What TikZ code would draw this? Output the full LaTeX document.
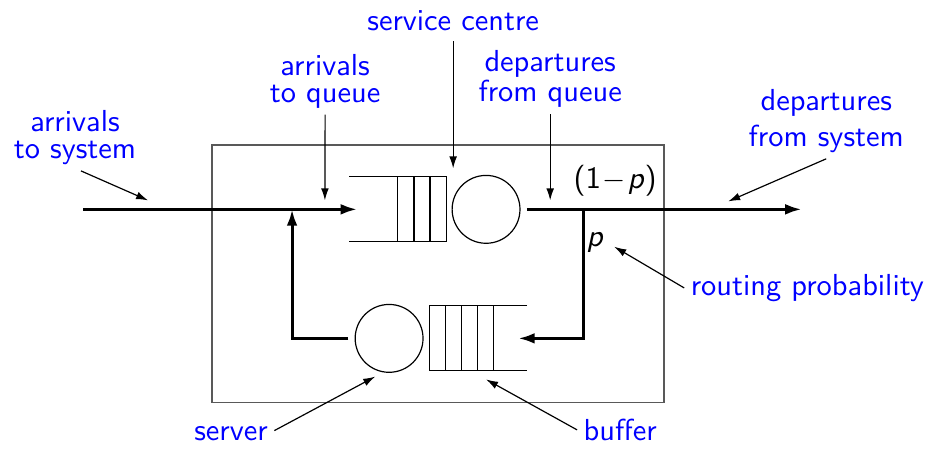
\documentclass[tikz,border=0pt]{standalone}
\usetikzlibrary{arrows.meta}
\begin{document}
\begin{tikzpicture}[lbl/.style={text=blue, align=center, inner sep=2pt, font=\sffamily\fontsize{10.2}{9}\selectfont},
  srv/.style={draw, circle, minimum size=0.8cm, inner sep=0pt, outer sep=0.08cm},
  flow/.style={line width=1pt, -{Latex[length=5.5pt,width=3.6pt]}},
  note/.style={line width=0.4pt, -{Latex[length=4pt,width=2.6pt]}}]
\useasboundingbox (0,0) rectangle (10.94,5.31);
\draw[black!65, line width=0.6pt] (2.50,0.566) rectangle (7.83,3.597);
% upper service centre
\draw (4.12,3.225) -- (5.26,3.225) -- (5.26,2.459) -- (4.12,2.459);
\foreach \x in {4.69,4.88,5.07} \draw (\x,3.225) -- (\x,2.459);
\node[srv] (s1) at (5.73,2.842) {};
% lower service centre
\draw (6.215,1.704) -- (5.06,1.704) -- (5.06,0.938) -- (6.215,0.938);
\foreach \x in {5.25,5.44,5.63,5.82} \draw (\x,1.704) -- (\x,0.938);
\node[srv] (s2) at (4.587,1.321) {};
% flow
\coordinate (src) at (0.98,2.842);
\coordinate (q1in) at (4.21,2.842);
\coordinate (sink) at (9.45,2.842);
\coordinate (split) at (6.875,2.842);
\coordinate (q2in) at (6.11,1.321);
\coordinate (merge) at (3.443,2.842);
\draw[flow] (src) -- (q1in);
\draw[flow] (s1.east) -- (sink);
\draw[flow] (split) |- (q2in);
\draw[flow] (s2.west) -| (merge);
\node[font=\sffamily\fontsize{10.4}{12}\selectfont, anchor=base] (frac) at (7.252,3.09) {(1$\mkern1mu-\mkern1mu$\textit{p})};
\node[font=\sffamily\fontsize{10.4}{12}\selectfont, anchor=base] (plab) at (7.017,2.406) {\textit{p}};
% labels
\node[lbl] (a2s) at (0.884,3.692) {arrivals\\to system};
\node[lbl] (a2q) at (3.833,4.353) {arrivals\\to queue};
\node[lbl, anchor=base] (sc) at (5.342,4.953) {service centre};
\node[lbl] (dfq) at (6.486,4.376) {departures\\from queue};
\node[lbl] (dfs) at (9.74,3.883) {departures\\[1.6pt]from system};
\node[lbl, anchor=base west] (rp) at (8.066,1.828) {routing probability};
\node[lbl, anchor=base] (srvlab) at (2.724,0.118) {server};
\node[lbl, anchor=base] (buflab) at (7.311,0.118) {buffer};
\coordinate (a2sTip) at (1.745,2.948);
\coordinate (a2qTip) at (3.83,2.948);
\coordinate (scTip) at (5.342,3.325);
\coordinate (dfqTip) at (6.486,2.948);
\coordinate (dfsTip) at (8.585,2.936);
\coordinate (b2Tip) at (5.731,0.837);
\draw[note] ([xshift=2pt]a2s.south) -- (a2sTip);
\draw[note] (a2q.south) -- (a2qTip);
\draw[note] ([yshift=-1.3pt]sc.south) -- (scTip);
\draw[note] (dfq.south) -- (dfqTip);
\draw[note] (dfs.south) -- (dfsTip);
\draw[note] (rp.west) -- ([yshift=-1.5pt]plab.east);
\draw[note] ([yshift=1pt]srvlab.east) -- (s2.250);
\draw[note] (buflab.west) -- (b2Tip);
\end{tikzpicture}
\end{document}
